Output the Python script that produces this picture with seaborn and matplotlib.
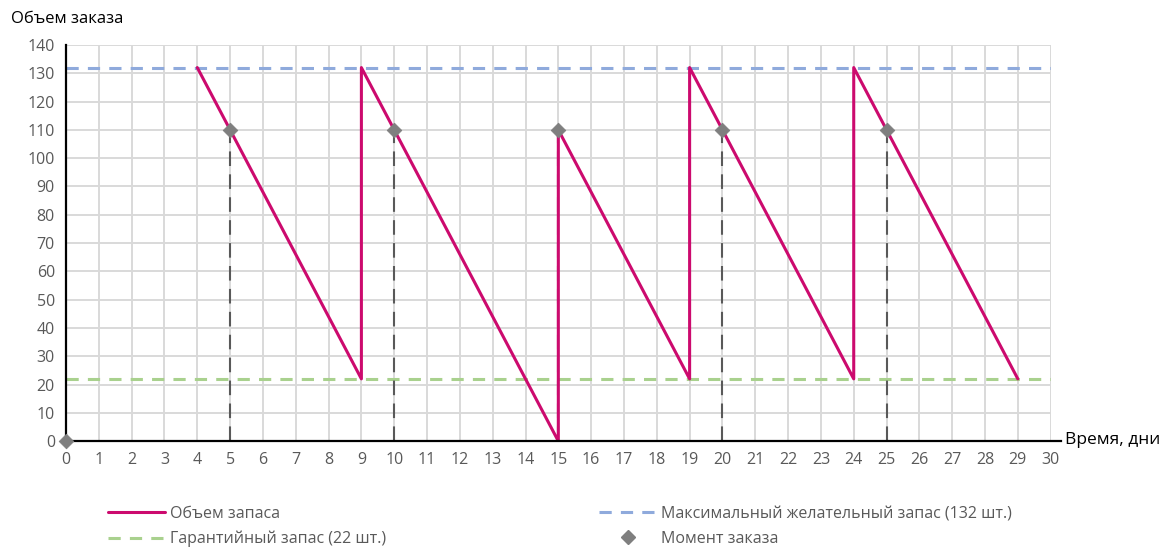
import matplotlib
matplotlib.use("Agg")
import matplotlib.pyplot as plt
from matplotlib.lines import Line2D
import seaborn as sns
import pandas as pd

# inventory level (sawtooth)
stock_days = [4, 9, 9, 15, 15, 19, 19, 24, 24, 29]
stock_levels = [132, 22, 132, 0, 110, 22, 132, 22, 132, 22]

# order moments
order_days = [0, 5, 10, 15, 20, 25]
order_levels = [0, 110, 110, 110, 110, 110]

max_stock = 132
safety_stock = 22

x_ticks = list(range(0, 31))
y_ticks = list(range(0, 141, 10))

sns.set_theme(style="white")
plt.rcParams['font.family'] = ['Open Sans', 'DejaVu Sans']

stock = pd.DataFrame({'day': stock_days, 'level': stock_levels})
orders = pd.DataFrame({'day': order_days, 'level': order_levels})

fig = plt.figure(figsize=(11.7, 5.48), dpi=100)
ax = fig.add_axes([0.0564, 0.195, 0.8416, 0.723])

grey_txt = '#595959'
c_stock = '#CC0A6E'
c_max = '#8FAADC'
c_safe = '#A9D18E'
c_mark = '#7F7F7F'

# grid
ax.set_axisbelow(True)
ax.grid(True, color='#D9D9D9', linewidth=1.4)

# reference lines
ax.axhline(max_stock, color=c_max, linewidth=2.2, linestyle=(0, (4, 3)), zorder=2)
ax.axhline(safety_stock, color=c_safe, linewidth=2.2, linestyle=(0, (4, 3)), zorder=2)

# drop lines from order points
ax.vlines(orders['day'], 0, orders['level'], colors='#595959', linewidth=1.5,
          linestyles=(0, (7, 4)), zorder=3)

sns.lineplot(data=stock, x='day', y='level', sort=False, estimator=None,
             color=c_stock, linewidth=2.2, ax=ax, zorder=4)
sns.scatterplot(data=orders, x='day', y='level', marker='D', s=55,
                color=c_mark, edgecolor=c_mark, ax=ax, zorder=7, clip_on=False)

ax.set_xlim(0, 30)
ax.set_ylim(0, 140)
ax.set_xticks(x_ticks)
ax.set_yticks(y_ticks)
ax.tick_params(axis='both', labelsize=11.5, colors=grey_txt, length=0, pad=8)
ax.set_xlabel('')
ax.set_ylabel('')

for s in ['top', 'right']:
    ax.spines[s].set_visible(False)
for s in ['left', 'bottom']:
    ax.spines[s].set_color('black')
    ax.spines[s].set_linewidth(1.6)
ax.spines['left'].set_zorder(6)
ax.spines['bottom'].set_zorder(6)
ax.spines['bottom'].set_bounds(0, 30.3)
ax.spines['bottom'].set_clip_on(False)

fig.text(0.009, 0.965, 'Объем заказа', fontsize=12, color='black', va='center', ha='left')
ax.text(30.45, 0.5, 'Время, дни', fontsize=12.5, color='black', va='center', ha='left')

handles = [
    Line2D([], [], color=c_stock, linewidth=2.2),
    Line2D([], [], color=c_safe, linewidth=2.2, linestyle=(0, (4, 3))),
    Line2D([], [], color=c_max, linewidth=2.2, linestyle=(0, (4, 3))),
    Line2D([], [], color=c_mark, marker='D', markersize=7, linestyle='none'),
]
labels = ['Объем запаса', 'Гарантийный запас (22 шт.)',
          'Максимальный желательный запас (132 шт.)', 'Момент заказа']
leg = fig.legend(handles, labels, ncol=2, loc='lower left',
                 bbox_to_anchor=(0.08, -0.025), frameon=False, fontsize=11.5,
                 handlelength=3.6, columnspacing=13.3, labelspacing=0.55,
                 handletextpad=0.3)
for t in leg.get_texts():
    t.set_color(grey_txt)

fig.savefig('out.png', dpi=100)
